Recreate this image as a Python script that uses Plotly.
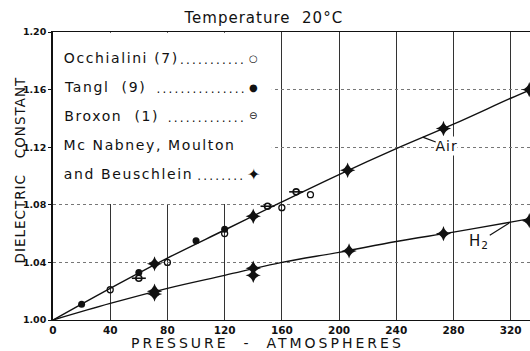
import json
import plotly.graph_objects as go

# ---- data ----
occ_p = [40, 80, 120, 160, 180]
occ_k = [1.021, 1.040, 1.060, 1.078, 1.087]

tangl_p = [20, 60, 100, 120]
tangl_k = [1.011, 1.033, 1.055, 1.063]

brox_p = [60, 150, 170]
brox_k = [1.029, 1.079, 1.089]

mcn_air_p = [71, 140, 206, 273, 333]
mcn_air_k = [1.039, 1.072, 1.104, 1.133, 1.160]

mcn_h2_p = [71, 71, 140, 140, 207, 273, 333]
mcn_h2_k = [1.020, 1.018, 1.036, 1.031, 1.048, 1.060, 1.069]

air_curve_p = [0, 40, 80, 120, 160, 200, 240, 280, 320, 334]
air_curve_k = [1.000, 1.022, 1.043, 1.0625, 1.082, 1.101, 1.119, 1.136, 1.154, 1.160]

h2_curve_p = [0, 40, 80, 120, 160, 200, 240, 280, 320, 334]
h2_curve_k = [1.000, 1.0115, 1.022, 1.031, 1.040, 1.047, 1.0545, 1.061, 1.068, 1.0705]

x_ticks = [0, 40, 80, 120, 160, 200, 240, 280, 320]
y_ticks = [1.00, 1.04, 1.08, 1.12, 1.16, 1.20]
y_tick_text = ["1.00", "1.04", "1.08", "1.12", "1.16", "1.20"]

legend_lines = ["Occhialini (7)", "Tangl  (9)", "Broxon  (1)", "Mc Nabney, Moulton", "and Beuschlein"]
legend_dots = [11, 15, 13, 0, 8]
legend_marks = ["○", "●", "⊖", "", "✦"]

FONT = "DejaVu Sans"
INK = "#111"

fig = go.Figure()

# curves
fig.add_trace(go.Scatter(x=air_curve_p, y=air_curve_k, mode="lines",
                         line=dict(color=INK, width=1.4, shape="spline"), hoverinfo="skip"))
fig.add_trace(go.Scatter(x=h2_curve_p, y=h2_curve_k, mode="lines",
                         line=dict(color=INK, width=1.4, shape="spline"), hoverinfo="skip"))

# markers
fig.add_trace(go.Scatter(x=occ_p, y=occ_k, mode="markers",
                         marker=dict(symbol="circle-open", size=6, color=INK, line=dict(width=1.3, color=INK))))
fig.add_trace(go.Scatter(x=tangl_p, y=tangl_k, mode="markers",
                         marker=dict(symbol="circle", size=7, color=INK)))
fig.add_trace(go.Scatter(x=brox_p, y=brox_k, mode="markers",
                         marker=dict(symbol="circle-open", size=6, color=INK, line=dict(width=1.6, color=INK))))
fig.add_trace(go.Scatter(x=brox_p, y=brox_k, mode="markers",
                         marker=dict(symbol="line-ew-open", size=10, color=INK, line=dict(width=1.6, color=INK))))
fig.add_trace(go.Scatter(x=mcn_air_p, y=mcn_air_k, mode="markers",
                         marker=dict(symbol="star-diamond", size=11, color=INK)))
fig.add_trace(go.Scatter(x=mcn_h2_p, y=mcn_h2_k, mode="markers",
                         marker=dict(symbol="star-diamond", size=11, color=INK)))

# white box behind legend (hides grid there)
fig.add_shape(type="rect", xref="x", yref="y", x0=-2, x1=153, y0=1.0806, y1=1.1995,
              fillcolor="white", line=dict(width=0), layer="between")

# page geometry of the plot area
L, R, T, B = 53, 530, 32, 320
W, H = 530, 351


def px(xp):
    return (xp - L) / (R - L)


def py(yp):
    return (B - yp) / (B - T)


ann = []
spacings = []


def txt(text, x, y, size, anchor="center", angle=0, sp=0.0):
    n = len(text)
    extra = sp * n
    if anchor == "left":
        x = x + extra / 2
    elif anchor == "right":
        x = x - extra / 2 + sp
    ann.append(dict(text=text, x=px(x), y=py(y), xref="paper", yref="paper", xanchor=anchor,
                    yanchor="middle", textangle=angle, showarrow=False,
                    font=dict(family=FONT, size=size, color=INK)))
    spacings.append(sp)


txt("Temperature  20°C", 263, 18, 15, sp=1.0)
txt("PRESSURE  -  ATMOSPHERES", 267, 343, 14, sp=3.0)
txt("DIELECTRIC   CONSTANT", 20, 170, 13.5, angle=-90, sp=1.0)

rows = [58, 87, 116, 145, 174]
for t, nd, mk, r in zip(legend_lines, legend_dots, legend_marks, rows):
    txt(t, 62, r, 14, anchor="left", sp=1.6)
    if nd:
        txt("." * nd, 246, r + 2, 12, anchor="right", sp=2.2)
    if mk:
        txt(mk, 253, r, 16 if mk == "✦" else 10)

ann.append(dict(text="Air", x=258.5, y=1.127, xref="x", yref="y", ax=24, ay=9,
                showarrow=True, arrowhead=0, arrowwidth=1.2, arrowcolor=INK, bgcolor="white",
                font=dict(family=FONT, size=14, color=INK)))
spacings.append(1.0)
ann.append(dict(text="H<sub>2</sub>", x=319, y=1.0674, xref="x", yref="y", ax=-30, ay=19,
                showarrow=True, arrowhead=0, arrowwidth=1.2, arrowcolor=INK,
                font=dict(family=FONT, size=15, color=INK)))
spacings.append(1.0)

fig.update_layout(
    width=W, height=H,
    margin=dict(l=L, r=W - R, t=T, b=H - B),
    paper_bgcolor="white", plot_bgcolor="white",
    showlegend=False,
    annotations=ann,
    xaxis=dict(range=[0, 333.5], tickvals=x_ticks, showgrid=True, gridcolor="#333", gridwidth=1,
               zeroline=False, showline=True, linecolor=INK, linewidth=1.3, mirror=True,
               ticks="", tickfont=dict(family=FONT, size=10.5, color=INK, weight="bold")),
    yaxis=dict(range=[1.0, 1.2], tickvals=y_ticks, ticktext=y_tick_text, showgrid=True,
               gridcolor="#777", gridwidth=1, griddash="dot",
               zeroline=False, showline=True, linecolor=INK, linewidth=1.5,
               ticks="outside", ticklen=3, tickcolor=INK,
               tickfont=dict(family=FONT, size=9.5, color=INK, weight="bold")),
)

spacing_js = """
document.documentElement.style.margin = '0';
document.documentElement.style.overflow = 'hidden';
document.body.style.margin = '0';
document.body.style.padding = '0';
document.body.style.overflow = 'hidden';
var sp = %s;
var els = document.querySelectorAll('.annotation-text');
els.forEach(function(el, i){
  if (i < sp.length && sp[i] > 0) { el.style.letterSpacing = sp[i] + 'px'; }
});
""" % json.dumps(spacings)

fig.write_html("out.html", post_script=spacing_js, config={"displayModeBar": False})
